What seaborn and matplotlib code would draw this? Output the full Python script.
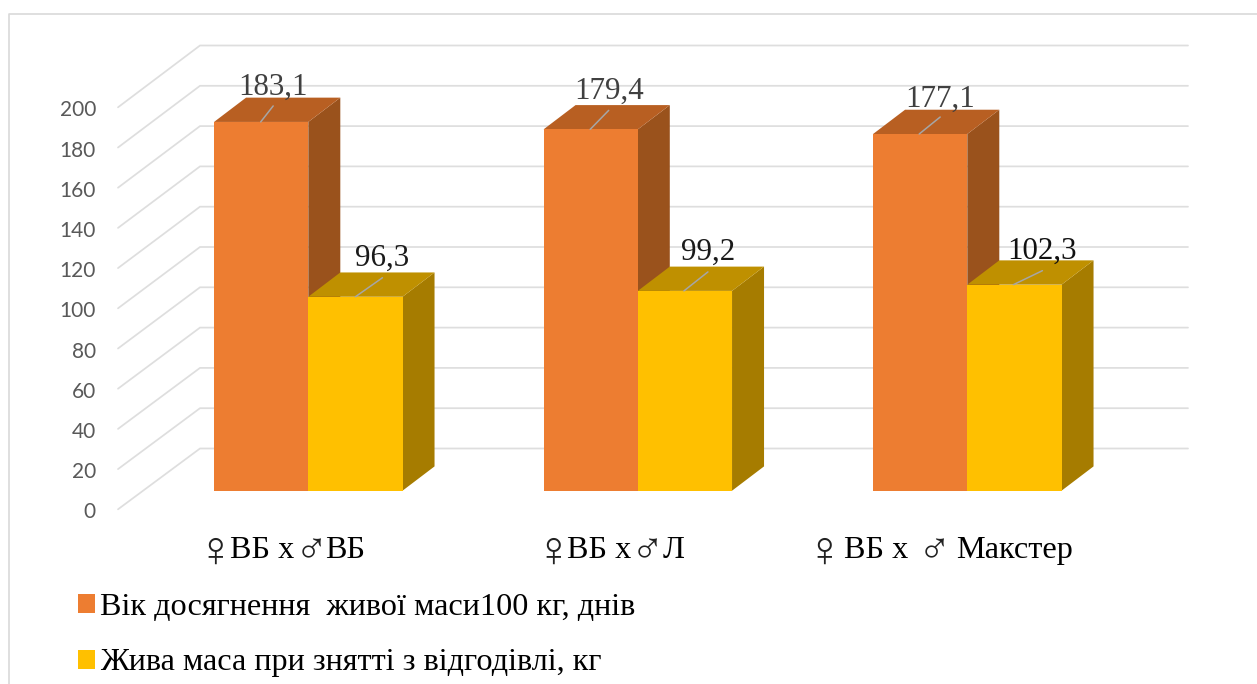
import matplotlib
matplotlib.use("Agg")
import matplotlib.pyplot as plt
from matplotlib.patches import Patch, Polygon
import pandas as pd
import seaborn as sns

crosses = ["♀ВБ х ♂ВБ", "♀ВБ х ♂Л", "♀ ВБ х  ♂ Макстер"]
series_names = ["Вік досягнення  живої маси100 кг, днів", "Жива маса при знятті з відгодівлі, кг"]
age_days = [183.1, 179.4, 177.1]
live_weight = [96.3, 99.2, 102.3]
value_labels = ["183,1", "179,4", "177,1", "96,3", "99,2", "102,3"]
axis_ticks = list(range(0, 201, 20))

W, H = 1257, 684
X0, X_STEP = 308.3, 329.5      # pixel centre of the first group, group spacing
Y0, Y_SCALE = 490.7, 2.014     # pixel row of the floor, pixels per unit
BAR_DX, BAR_DY = 32, 24.3      # depth of each box
WALL_FRONT_X, WALL_BACK_X, WALL_END_X = 118, 200, 1188
WALL_FRONT_Y0, WALL_BACK_Y0 = 509.3, 448.5

FRONT = ["#ED7D31", "#FFC000"]
TOP = ["#B85F22", "#BF9000"]
SIDE = ["#9A521C", "#A67C00"]
GRID = "#DEDEDE"

SERIF = ["Liberation Serif", "DejaVu Sans"]

sns.set_theme(style="white")
fig = plt.figure(figsize=(W / 100, H / 100), dpi=100, facecolor="white")
ax = fig.add_axes([0, 0, 1, 1])

table = pd.DataFrame({
    "cross": crosses * 2,
    "series": [series_names[0]] * 3 + [series_names[1]] * 3,
    "value": age_days + live_weight,
})
sns.barplot(data=table, x="cross", y="value", hue="series", palette=FRONT,
            width=0.572, gap=0, saturation=1, legend=False, ax=ax,
            linewidth=0, zorder=3)


def px_x(px):
    return (px - X0) / X_STEP


def px_y(py):
    return (Y0 - py) / Y_SCALE


ax.set_xlim(px_x(0), px_x(W))
ax.set_ylim(px_y(H), px_y(0))
ax.axis("off")

dx = BAR_DX / X_STEP
dy = BAR_DY / Y_SCALE

# Receding walls and back wall gridlines
for tick in axis_ticks:
    front_y = px_y(WALL_FRONT_Y0) + tick * 2.01 / Y_SCALE
    back_y = px_y(WALL_BACK_Y0) + tick * 2.015 / Y_SCALE
    ax.plot([px_x(WALL_FRONT_X), px_x(WALL_BACK_X), px_x(WALL_END_X)],
            [front_y, back_y, back_y], color=GRID, lw=1.25, zorder=1,
            solid_joinstyle="miter")
    ax.text(px_x(96), front_y - 1 / Y_SCALE, str(tick), ha="right", va="center_baseline",
            family="Lato", fontsize=15, color="#595959")

# Side and top faces worked out from each bar's own geometry
bars = list(ax.patches)
for i, bar in enumerate(bars):
    s = i // 3
    x0, w, h = bar.get_x(), bar.get_width(), bar.get_height()
    x1 = x0 + w
    ax.add_patch(Polygon([(x1, 0), (x1 + dx, dy), (x1 + dx, h + dy), (x1, h)],
                         closed=True, fc=SIDE[s], ec="none", zorder=2))
    ax.add_patch(Polygon([(x0, h), (x0 + dx, h + dy), (x1 + dx, h + dy), (x1, h)],
                         closed=True, fc=TOP[s], ec="none", zorder=2))

# Value labels with short leader lines; offsets are in pixels from the bar centre
leader_start = [-0.5, -0.5, -1, 0, -1, -1]
label_dx = [12, 18, 20, 27, 23, 28]
leader_rise = [16, 19, 17, 19, 19, 14]
label_rise = [35, 38, 35, 38, 39, 33]
label_inks = ["#404040", "#404040", "#404040", "#1A1A1A", "#1A1A1A", "#111111"]
for i, bar in enumerate(bars):
    cx = bar.get_x() + bar.get_width() / 2
    h = bar.get_height()
    start = cx + leader_start[i] / X_STEP
    end = cx + label_dx[i] / X_STEP
    ax.plot([start, end], [h, h + leader_rise[i] / Y_SCALE], color="#A6A6A6",
            lw=1.1, zorder=4)
    ax.text(end, h + label_rise[i] / Y_SCALE, value_labels[i], ha="center",
            va="center", family=SERIF, fontsize=22.3, color=label_inks[i], zorder=5)

# Group captions below the floor, set piece by piece so the sex signs can use a larger size
caption_pieces = [
    [("♀", 215.5), ("ВБ х", 230), ("♂", 311), ("ВБ", 325)],
    [("♀", 553.5), ("ВБ х", 567), ("♂", 647), ("Л", 663)],
    [("♀", 824), ("ВБ х", 844), ("♂", 934.5), ("Макстер", 956)],
]
for pieces in caption_pieces:
    for piece, left in pieces:
        if piece == "♀":
            ax.text(px_x(left), px_y(566), piece, ha="center", va="baseline",
                    family=SERIF, fontsize=36, color="#222222")
        elif piece == "♂":
            ax.text(px_x(left), px_y(563), piece, ha="center", va="baseline",
                    family=SERIF, fontsize=32, color="#222222")
        else:
            ax.text(px_x(left), px_y(558), piece, ha="left", va="baseline",
                    family=SERIF, fontsize=23.2, color="black")

# Legend stacked in the lower left corner
handles = [Patch(fc=c, ec="none") for c in FRONT]
fig.legend(handles, series_names, loc="upper left",
           bbox_to_anchor=(78 / W, 1 - 593 / H), frameon=False,
           prop={"family": SERIF, "size": 23.2}, labelcolor="black",
           handlelength=0.53, handleheight=0.53, handletextpad=0.16,
           labelspacing=0.82, borderpad=0, borderaxespad=0)

# Outer chart border, open on the right and bottom
ax.plot([px_x(9), px_x(9), px_x(W)], [px_y(H), px_y(14), px_y(14)],
        color="#D9D9D9", lw=1.2, zorder=1, clip_on=False)

fig.savefig("out.png", dpi=100)
